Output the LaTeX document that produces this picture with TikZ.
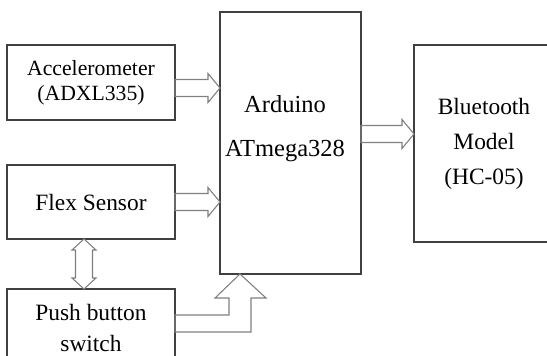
\documentclass[tikz,border=0pt]{standalone}
\usepackage{fontspec}
\setmainfont{Liberation Serif}
\usetikzlibrary{positioning,calc}
\definecolor{boxline}{HTML}{404040}
\definecolor{arrowline}{HTML}{808080}
\tikzset{
  blockbox/.style={
    rectangle, draw=boxline, line width=1.2pt, anchor=north west,
    outer sep=0pt, align=center, minimum width=168pt,
    font=\fontsize{23.4}{31}\selectfont
  },
  fatarrow/.style={draw=arrowline, line width=1.1pt, line join=miter},
}

\begin{document}
\begin{tikzpicture}[x=1pt, y=-1pt, node distance=45pt]
  \useasboundingbox (0,0) rectangle (547,356);
  % input side
  \node[blockbox, minimum height=75pt, font=\fontsize{21.7}{25}\selectfont] (acc) at (7,45) {Accelerometer\\(ADXL335)};
  \node[blockbox, minimum height=74pt, below=of acc] (flex) {Flex Sensor};
  \node[blockbox, minimum height=78pt, below=50pt of flex] (push) {Push button\\switch};
  % controller and output
  \node[blockbox, minimum width=141pt, minimum height=262pt] (ard) at (220,12) {};
  \node[align=center, font=\fontsize{24.5}{44}\selectfont] (ardtext) at ($(ard.north)+(-5.5,117)$) {Arduino\\ATmega328};
  \node[blockbox, minimum width=140pt, minimum height=197pt, font=\fontsize{23.4}{35}\selectfont] (bt) at (414,45) {Bluetooth\\Model\\(HC-05)};

  \coordinate (a1) at ($(acc.east)+(0,5.5)$);
  \coordinate (f1) at (flex.east);
  \coordinate (b1) at ($(ard.east)+(0,-9)$);
  \foreach \s/\t in {a1/ard, f1/ard, b1/bt} {
    \coordinate (tip) at (\t.west |- \s);
    \draw[fatarrow] ($(\s)+(0,-8.5)$) -- ($(tip)+(-12,-8.5)$) -- ($(tip)+(-12,-14.5)$)
      -- (tip) -- ($(tip)+(-12,14.5)$) -- ($(tip)+(-12,8.5)$) -- ($(\s)+(0,8.5)$) -- cycle;
  }

  % flex <-> push
  \coordinate (dtop) at ($(flex.south)+(-7,0)$);
  \coordinate (dbot) at (dtop |- push.north);
  \draw[fatarrow] (dtop) -- ++(12,11) -- ++(-3.5,0) -- ($(dbot)+(8.5,-11)$) -- ++(3.5,0)
    -- (dbot) -- ++(-12,-11) -- ++(3.5,0) -- ($(dtop)+(-8.5,11)$) -- ++(-3.5,0) -- cycle;

  % push -> arduino (bent)
  \coordinate (pstart) at ($(push.north east)+(0,34.5)$);
  \coordinate (ptip) at ($(ard.south west)+(20,0)$);
  \draw[fatarrow] ($(pstart)+(0,-8.5)$) -| ($(ptip)+(-11,24)$) -- ($(ptip)+(-25,24)$)
    -- (ptip) -- ($(ptip)+(26,24)$) -- ($(ptip)+(11,24)$) |- ($(pstart)+(0,8.5)$) -- cycle;
\end{tikzpicture}
\end{document}
